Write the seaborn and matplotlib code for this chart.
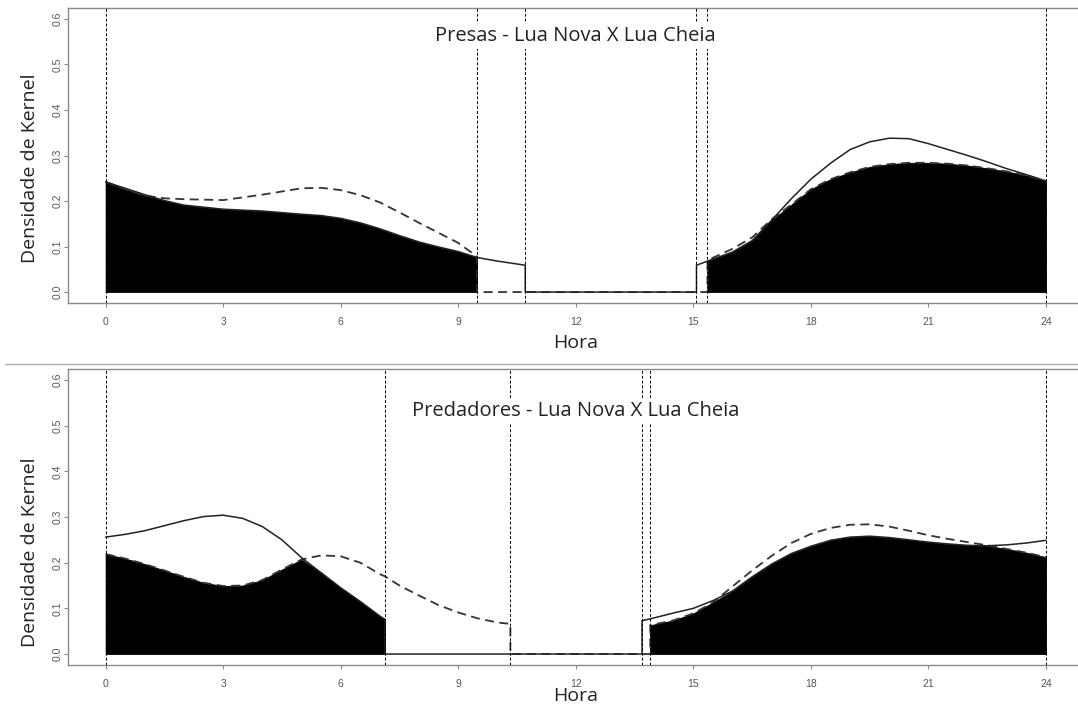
import numpy as np
import pandas as pd
import seaborn as sns
import matplotlib.pyplot as plt
from matplotlib.lines import Line2D

# ---------------- data ----------------
# Top panel: Presas
presas_title = "Presas - Lua Nova X Lua Cheia"
presas_h_a = [0, 0.5, 1, 1.5, 2, 3, 4, 5, 5.5, 6, 6.5, 7, 7.5, 8, 8.5, 9, 9.48]
presas_nova_a = [0.242, 0.228, 0.214, 0.201, 0.191, 0.182, 0.178, 0.171, 0.168, 0.162, 0.152, 0.139, 0.124, 0.110, 0.099, 0.089, 0.076]
presas_cheia_a = [0.242, 0.226, 0.212, 0.206, 0.204, 0.202, 0.214, 0.228, 0.229, 0.224, 0.213, 0.197, 0.175, 0.152, 0.130, 0.108, 0.078]
presas_nova_tail_h = [10.0, 10.71]
presas_nova_tail = [0.068, 0.059]
presas_cheia_tail_h = []
presas_cheia_tail = []
presas_h_b = [15.36, 16, 16.5, 17, 17.5, 18, 18.5, 19, 19.5, 20, 20.5, 21, 21.5, 22, 22.5, 23, 23.5, 24]
presas_nova_b = [0.068, 0.088, 0.113, 0.158, 0.205, 0.248, 0.283, 0.313, 0.330, 0.338, 0.337, 0.326, 0.313, 0.300, 0.286, 0.271, 0.258, 0.244]
presas_cheia_b = [0.070, 0.095, 0.120, 0.160, 0.192, 0.226, 0.248, 0.263, 0.275, 0.281, 0.284, 0.284, 0.282, 0.278, 0.272, 0.265, 0.256, 0.244]
presas_nova_head_h = [15.08]
presas_nova_head = [0.059]
presas_cheia_head_h = []
presas_cheia_head = []
presas_vlines = [0, 9.48, 10.71, 15.08, 15.36, 24]

# Bottom panel: Predadores
pred_title = "Predadores - Lua Nova X Lua Cheia"
pred_h_a = [0, 0.5, 1, 1.5, 2, 2.5, 3, 3.5, 4, 4.5, 5, 5.5, 6, 6.5, 7, 7.13]
pred_nova_a = [0.256, 0.262, 0.270, 0.281, 0.292, 0.301, 0.304, 0.297, 0.279, 0.250, 0.211, 0.178, 0.145, 0.115, 0.083, 0.076]
pred_cheia_a = [0.219, 0.209, 0.197, 0.183, 0.169, 0.156, 0.149, 0.150, 0.162, 0.185, 0.207, 0.216, 0.214, 0.200, 0.175, 0.170]
pred_nova_tail_h = []
pred_nova_tail = []
pred_cheia_tail_h = [7.5, 8, 8.5, 9, 9.5, 10, 10.33]
pred_cheia_tail = [0.150, 0.128, 0.107, 0.091, 0.078, 0.069, 0.066]
pred_h_b = [13.90, 14.5, 15, 15.5, 16, 16.5, 17, 17.5, 18, 18.5, 19, 19.5, 20, 20.5, 21, 21.5, 22, 22.5, 23, 23.5, 24]
pred_nova_b = [0.077, 0.090, 0.100, 0.117, 0.138, 0.169, 0.197, 0.220, 0.236, 0.249, 0.256, 0.258, 0.255, 0.250, 0.245, 0.241, 0.238, 0.237, 0.239, 0.243, 0.249]
pred_cheia_b = [0.063, 0.074, 0.089, 0.113, 0.148, 0.183, 0.215, 0.243, 0.263, 0.276, 0.283, 0.284, 0.279, 0.270, 0.260, 0.252, 0.245, 0.238, 0.230, 0.222, 0.212]
pred_nova_head_h = [13.69]
pred_nova_head = [0.073]
pred_cheia_head_h = []
pred_cheia_head = []
pred_vlines = [0, 7.13, 10.33, 13.69, 13.90, 24]

x_ticks = [0, 3, 6, 9, 12, 15, 18, 21, 24]
y_ticks = [0.0, 0.1, 0.2, 0.3, 0.4, 0.5, 0.6]
y_tick_labels = ["0.0", "0.1", "0.2", "0.3", "0.4", "0.5", "0.6"]
x_label = "Hora"
y_label = "Densidade de Kernel"

# ---------------- style ----------------
sns.set_theme(style="white")
plt.rcParams['font.family'] = ['Liberation Sans', 'DejaVu Sans']

W, H = 1078, 706
fig = plt.figure(figsize=(W / 100, H / 100), dpi=100)
fig.patch.set_facecolor("white")
LABEL_FONT = ["Open Sans", "DejaVu Sans"]


def full_series(h_a, v_a, tail_h, tail, head_h, head, h_b, v_b):
    xa = list(h_a) + list(tail_h)
    ya = list(v_a) + list(tail)
    xb = list(head_h) + list(h_b)
    yb = list(head) + list(v_b)
    x = xa + [xa[-1], xb[0]] + xb
    y = ya + [0, 0] + yb
    return x, y


def panel(ax, title, h_a, nova_a, cheia_a, nova_tail_h, nova_tail, cheia_tail_h, cheia_tail,
          h_b, nova_b, cheia_b, nova_head_h, nova_head, cheia_head_h, cheia_head, vlines,
          title_y, ylab_y, xlab_y):
    # overlap area (minimum of the two densities)
    ax.fill_between(h_a, 0, np.minimum(nova_a, cheia_a), color="black", lw=0.6,
                    edgecolor="black", zorder=1)
    ax.fill_between(h_b, 0, np.minimum(nova_b, cheia_b), color="black", lw=0.6,
                    edgecolor="black", zorder=1)

    cx, cy = full_series(h_a, cheia_a, cheia_tail_h, cheia_tail, cheia_head_h, cheia_head, h_b, cheia_b)
    nx, ny = full_series(h_a, nova_a, nova_tail_h, nova_tail, nova_head_h, nova_head, h_b, nova_b)
    sns.lineplot(x=cx, y=cy, ax=ax, estimator=None, sort=False, color="#333333",
                 linewidth=1.3, linestyle=(0, (5, 3)), zorder=2)
    sns.lineplot(x=nx, y=ny, ax=ax, estimator=None, sort=False, color="#222222",
                 linewidth=1.1, zorder=3)

    for v in vlines:
        ax.axvline(v, color="black", lw=0.7, linestyle=(0, (3, 2)), zorder=4)

    ax.set_xlim(-0.96, 24.96)
    ax.set_ylim(-0.024, 0.624)
    ax.set_xticks(x_ticks)
    ax.set_xticklabels([str(t) for t in x_ticks])
    ax.set_yticks(y_ticks)
    ax.set_yticklabels(y_tick_labels)
    ax.tick_params(axis="both", direction="out", length=3, width=0.8, color="#888888",
                   labelcolor="#555555", labelsize=7.5)
    ax.tick_params(axis="x", pad=7.0, bottom=True)
    ax.tick_params(axis="y", pad=1.0, left=True, labelrotation=90)
    for lab in ax.get_yticklabels():
        lab.set_va("center")
    for s in ax.spines.values():
        s.set_color("#8a8a8a")
        s.set_linewidth(1.0)

    ax.text(12, title_y, title, ha="center", va="center", fontsize=14.5,
            family=LABEL_FONT, color="#222222", zorder=6,
            bbox=dict(facecolor="white", edgecolor="none", pad=2))

    ax.set_xlabel(x_label, fontsize=14, family=LABEL_FONT, color="#222222")
    ax.xaxis.set_label_coords(0.5, xlab_y)
    ax.xaxis.label.set_va("center")
    ax.set_ylabel(y_label, fontsize=14, family=LABEL_FONT, color="#222222")
    ax.yaxis.set_label_coords((30 - 68) / 1015.6, ylab_y)
    ax.yaxis.label.set_va("center")


def axes_rect(top_px, bottom_px):
    left = 68 / W
    width = (1083.6 - 68) / W
    bottom = 1 - bottom_px / H
    height = (bottom_px - top_px) / H
    return [left, bottom, width, height]


ax1 = fig.add_axes(axes_rect(8, 303))
ax2 = fig.add_axes(axes_rect(369, 665))

panel(ax1, presas_title, presas_h_a, presas_nova_a, presas_cheia_a,
      presas_nova_tail_h, presas_nova_tail, presas_cheia_tail_h, presas_cheia_tail,
      presas_h_b, presas_nova_b, presas_cheia_b,
      presas_nova_head_h, presas_nova_head, presas_cheia_head_h, presas_cheia_head,
      presas_vlines, title_y=0.562, ylab_y=(303 - 168) / 295, xlab_y=-40 / 295)

panel(ax2, pred_title, pred_h_a, pred_nova_a, pred_cheia_a,
      pred_nova_tail_h, pred_nova_tail, pred_cheia_tail_h, pred_cheia_tail,
      pred_h_b, pred_nova_b, pred_cheia_b,
      pred_nova_head_h, pred_nova_head, pred_cheia_head_h, pred_cheia_head,
      pred_vlines, title_y=0.532, ylab_y=(665 - 552) / 296, xlab_y=-31 / 296)

# separator between the two stacked plots
fig.add_artist(Line2D([5 / W, 1], [1 - 364 / H, 1 - 364 / H], color="#b0b0b0", lw=1.0))

fig.savefig("out.png", dpi=100, facecolor="white")
